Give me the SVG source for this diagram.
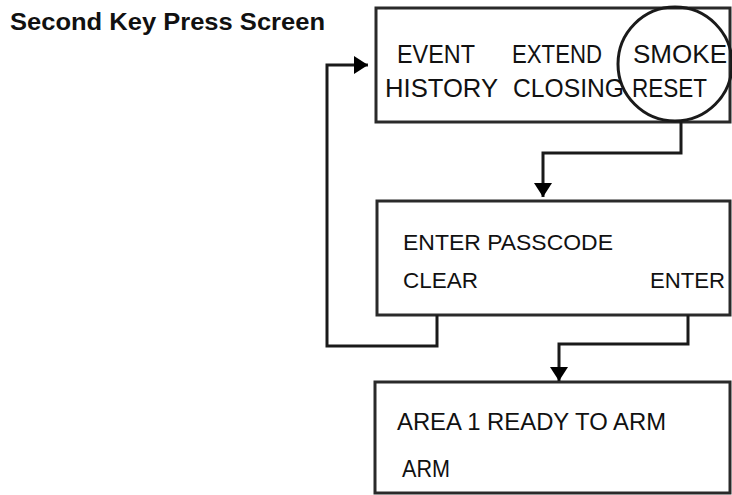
<svg xmlns="http://www.w3.org/2000/svg" width="732" height="495" viewBox="0 0 732 495">
<style>
.box{fill:#fff;stroke:#2a2a2a;stroke-width:3}
.t{font-family:"Liberation Sans",Arial,sans-serif;fill:#111}
.top{font-size:26px}
.mid{font-size:22px}
.bot{font-size:23px}
.title{font-family:"Liberation Sans",Arial,sans-serif;font-weight:bold;font-size:24px;fill:#111}
.conn{fill:none;stroke:#1a1a1a;stroke-width:3}
</style>
<defs>
<marker id="ah" viewBox="0 0 14 18" refX="14" refY="9" markerWidth="14" markerHeight="18" orient="auto" markerUnits="userSpaceOnUse">
<path d="M0,0 L14,9 L0,18 z" fill="#000"/>
</marker>
</defs>
<text class="title" x="10" y="30" textLength="315" lengthAdjust="spacingAndGlyphs">Second Key Press Screen</text>
<g id="screen1">
<rect class="box" x="376" y="8" width="354" height="114"/>
<circle cx="675" cy="64" r="57" fill="none" stroke="#1a1a1a" stroke-width="3"/>
<text class="t top" x="397" y="63" textLength="78" lengthAdjust="spacingAndGlyphs">EVENT</text>
<text class="t top" x="512" y="63" textLength="90" lengthAdjust="spacingAndGlyphs">EXTEND</text>
<text class="t top" x="633" y="63" textLength="94" lengthAdjust="spacingAndGlyphs">SMOKE</text>
<text class="t top" x="385" y="97" textLength="113" lengthAdjust="spacingAndGlyphs">HISTORY</text>
<text class="t top" x="513" y="97" textLength="111" lengthAdjust="spacingAndGlyphs">CLOSING</text>
<text class="t top" x="632" y="97" textLength="75" lengthAdjust="spacingAndGlyphs">RESET</text>
</g>
<g id="screen2">
<rect class="box" x="377" y="201" width="353" height="114"/>
<text class="t mid" x="403" y="250" textLength="210" lengthAdjust="spacingAndGlyphs">ENTER PASSCODE</text>
<text class="t mid" x="403" y="288" textLength="75" lengthAdjust="spacingAndGlyphs">CLEAR</text>
<text class="t mid" x="650" y="288" textLength="75" lengthAdjust="spacingAndGlyphs">ENTER</text>
</g>
<g id="screen3">
<rect class="box" x="375" y="382" width="355" height="111"/>
<text class="t bot" x="397" y="430" textLength="269" lengthAdjust="spacingAndGlyphs">AREA 1 READY TO ARM</text>
<text class="t bot" x="402" y="477" textLength="48" lengthAdjust="spacingAndGlyphs">ARM</text>
</g>
<g id="connectors">
<path class="conn" d="M681,122 V153 H543 V197" marker-end="url(#ah)"/>
<path class="conn" d="M437,315 V346 H327 V65 H368" marker-end="url(#ah)"/>
<path class="conn" d="M688,315 V344 H559 V381" marker-end="url(#ah)"/>
</g>
</svg>
